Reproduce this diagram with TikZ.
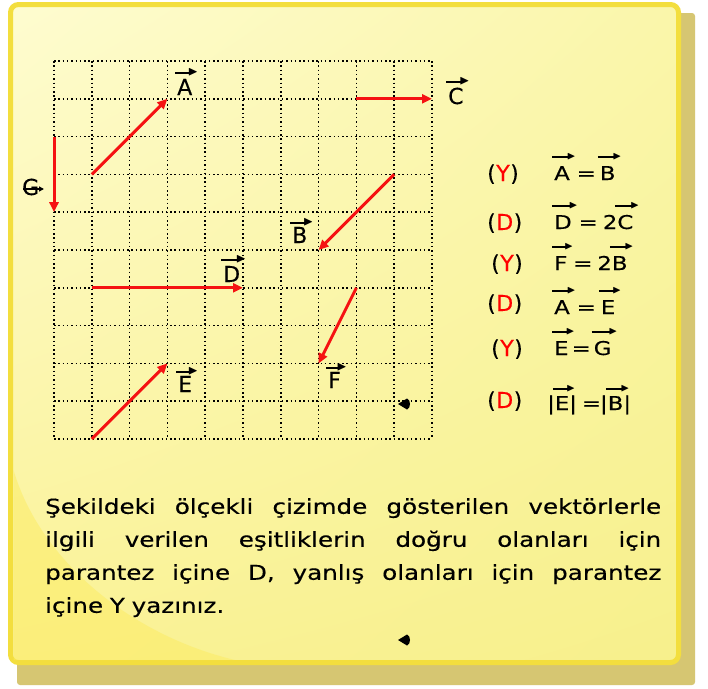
\documentclass[tikz,border=0pt]{standalone}
\usepackage{fontspec}
\setmainfont{DejaVu Sans}[FakeBold=0.3]
\newfontfamily\widefont{DejaVu Sans}[FakeStretch=1.2,FakeBold=0.3]
\usepackage{amssymb}
\usetikzlibrary{arrows.meta,shadings}
\definecolor{noteborder}{RGB}{243,222,62}
\definecolor{notetl}{RGB}{254,252,208}
\definecolor{notetr}{RGB}{250,246,170}
\definecolor{notebl}{RGB}{250,242,150}
\definecolor{notebr}{RGB}{247,240,140}
\definecolor{noteshadow}{RGB}{214,198,114}
\definecolor{swoosh}{RGB}{252,236,96}
\definecolor{vecred}{RGB}{245,18,18}
% vector label: arrow over a letter
\newcommand\vv[2][3pt]{\leavevmode\vbox{\offinterlineskip\setbox0\hbox{#2}%
\hbox to \wd0{\kern-2pt\leaders\hrule height 1.7pt depth -0.1pt\hfill\kern-2.5pt\raisebox{-1.6pt}{\scalebox{0.6}{$\blacktriangleright$}}\kern-6pt}%
\kern#1\box0}}
\tikzset{
  griddot/.style={black, line width=1.5pt, dash pattern=on 1.5pt off 2.8pt},
  vec/.style={vecred, line width=3pt, -{Triangle[length=10pt,width=9pt]}},
  glab/.style={anchor=base west, inner sep=0pt, font=\fontsize{22}{22}\selectfont},
  plab/.style={anchor=base west, inner sep=0pt, font=\fontsize{22}{22}\selectfont},
  elab/.style={anchor=base west, inner sep=0pt, font=\widefont\fontsize{19}{19}\selectfont},
  smallarr/.style={black, line width=1.4pt, -{Triangle[length=5pt,width=5pt]}},
  blackmark/.style={fill=black}
}
\begin{document}
\begin{tikzpicture}[x=1pt,y=-1pt]
\useasboundingbox (0,0) rectangle (708,688);
\fill[white] (0,0) rectangle (708,688);
% shadow
\fill[noteshadow, rounded corners=3pt] (17,13) rectangle (695,685);
% note
\shadedraw[draw=noteborder, line width=5pt, rounded corners=8pt,
  upper left=notetl, upper right=notetr, lower left=notebl, lower right=notebr]
  (10.5,4.5) rectangle (678.5,662.5);
\fill[swoosh, opacity=0.5] (13.5,470) .. controls (40,560) and (130,635) .. (235,660) -- (13.5,660) -- cycle;
% grid
\begin{scope}[shift={(54,61)}, x=37.8pt, y=-37.8pt]
  \foreach \i in {0,...,10} {
    \draw[griddot] (\i,0) -- (\i,10);
    \draw[griddot] (0,\i) -- (10,\i);
  }
  \coordinate (A1) at (1,3);  \coordinate (A2) at (3,1);
  \coordinate (C1) at (8,1);  \coordinate (C2) at (10,1);
  \coordinate (G1) at (0,2);  \coordinate (G2) at (0,4);
  \coordinate (B1) at (9,3);  \coordinate (B2) at (7,5);
  \coordinate (D1) at (1,6);  \coordinate (D2) at (5,6);
  \coordinate (F1) at (8,6);  \coordinate (F2) at (7,8);
  \coordinate (E1) at (1,10); \coordinate (E2) at (3,8);
\end{scope}
\draw[vec] (A1) -- (A2);
\draw[vec] (C1) -- (C2);
\draw[vec] (G1) -- (G2);
\draw[vec] (B1) -- (B2);
\draw[vec] (D1) -- (D2);
\draw[vec] (F1) -- (F2);
\draw[vec] (E1) -- (E2);
% grid labels
\node[glab] (lA) at (177,95) {\vv[3pt]{A}};
\node[glab] (lC) at (448,104) {\vv[3pt]{C}};
\node[glab] (lG) at (22,195) {G};
\coordinate (gA) at (23,189);
\coordinate (gB) at (44,189);
\draw[smallarr] (gA) -- (gB);
\node[glab] (lB) at (292,243) {\vv[1pt]{B}};
\node[glab] (lD) at (223,282) {\vv[3pt]{D}};
\node[glab] (lE) at (178,392) {\vv[1pt]{E}};
\node[glab] (lF) at (328,388) {\vv[1pt]{F}};
% marks
\fill[blackmark] (398,404) -- (407,398.5) .. controls (411,400) and (411,408) .. (407,409.5) -- cycle;
\fill[blackmark] (398,640) -- (407,634.5) .. controls (411,636) and (411,644) .. (407,645.5) -- cycle;
% answers
\node[plab] (p1) at (487,181) {(\kern0.5pt{\color{red}Y}\kern0.5pt)};
\node[plab] (p2) at (487,230) {(\kern0.5pt{\color{red}D}\kern0.5pt)};
\node[plab] (p3) at (491,271) {(\kern0.5pt{\color{red}Y}\kern0.5pt)};
\node[plab] (p4) at (487,311) {(\kern0.5pt{\color{red}D}\kern0.5pt)};
\node[plab] (p5) at (491,356) {(\kern0.5pt{\color{red}Y}\kern0.5pt)};
\node[plab] (p6) at (487,408) {(\kern0.5pt{\color{red}D}\kern0.5pt)};
\node[elab] (e1) at (554,180) {\vv[6pt]{A}\kern7pt=\kern4pt\vv[6pt]{B}};
\node[elab] (e2) at (554,229) {\vv[6pt]{D}\kern7pt=\kern5pt2\vv[6pt]{C}};
\node[elab] (e3) at (554,270) {\vv[6pt]{F}\kern6pt=\kern5pt2\vv[6pt]{B}};
\node[elab] (e4) at (554,314) {\vv[6pt]{A}\kern7pt=\kern5pt\vv[6pt]{E}};
\node[elab] (e5) at (554,355) {\vv[6pt]{E}\kern3pt=\kern3pt\vv[6pt]{G}};
\node[elab] (e6) at (547,410) {|\vv[4pt]{E}|\kern5pt=\kern-1pt|\vv[4pt]{B}|};
% paragraph
\node[anchor=north west, inner sep=0pt, text width=616pt, align=justify,
  font=\widefont\fontsize{20.5}{33}\selectfont] (para) at (45,498)
  {\spaceskip=0.33em plus 3em minus 0.1em
   Şekildeki ölçekli çizimde gösterilen vektörlerle\linebreak
   ilgili verilen eşitliklerin doğru olanları için\linebreak
   parantez içine D, yanlış olanları için parantez\linebreak
   içine Y yazınız.};
\end{tikzpicture}
\end{document}
